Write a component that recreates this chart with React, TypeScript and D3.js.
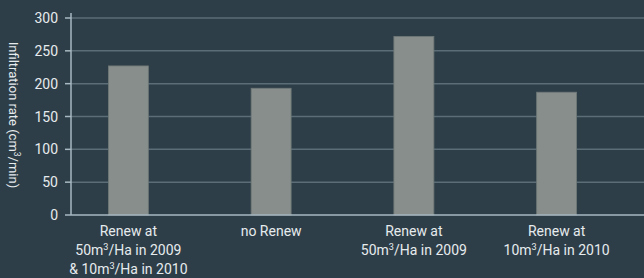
import React from 'react';
import * as d3 from 'd3';

// label lines; "^3" marks a superscript 3
const categories = ['c1', 'c2', 'c3', 'c4'];
const categoryLines = [
    ['Renew at', '50m^3/Ha in 2009', '& 10m^3/Ha in 2010'],
    ['no Renew'],
    ['Renew at', '50m^3/Ha in 2009'],
    ['Renew at', '10m^3/Ha in 2010'],
];
const values = [227, 193, 272, 187];
const yTicks = [0, 50, 100, 150, 200, 250, 300];

const W = 644;
const H = 278;
const FONT = 'Roboto, "Liberation Sans Narrow", Arial, sans-serif';

// turns "50m^3/Ha" into tspans with a raised 3
const supSpans = (text: string, size: number) => {
    const parts = text.split('^3');
    const out: React.ReactNode[] = [];
    const shift = size * 0.38;
    parts.forEach((p, i) => {
        out.push(<tspan key={'p' + i} dy={i > 0 ? shift : 0}>{p}</tspan>);
        if (i < parts.length - 1) {
            out.push(<tspan key={'s' + i} fontSize={size * 0.65} dy={-shift}>3</tspan>);
        }
    });
    return out;
};

const App: React.FC = () => {
    const x = d3.scaleBand<string>()
        .domain(categories)
        .range([57, 628])
        .paddingInner(0.72)
        .paddingOuter(0.36);
    const y = d3.scaleLinear().domain([0, 300]).range([215, 18]);
    const axisX = 71;

    return (
        <div style={{ position: 'fixed', left: 0, top: 0 }}>
            <svg width={W} height={H} style={{ display: 'block', background: '#2e3e48' }}>
                <rect width={W} height={H} fill="#2e3e48" />
                {yTicks.map(t => (
                    <g key={t}>
                        {t > 0 && (
                            <line x1={axisX} x2={W} y1={y(t)} y2={y(t)} stroke="#5b6d77" strokeWidth={1.5} />
                        )}
                        <line x1={65} x2={axisX} y1={y(t)} y2={y(t)} stroke="#a9b9c2" strokeWidth={1.5} />
                        <text x={58} y={y(t)} dy="0.36em" textAnchor="end" fill="#e6ebee"
                            fontSize={14} fontFamily={FONT}>{t}</text>
                    </g>
                ))}
                {values.map((v, i) => (
                    <rect key={i} x={x(categories[i])!} width={x.bandwidth()} y={y(v)} height={y(0) - y(v)}
                        fill="#878e8c" stroke="#6f7877" strokeWidth={0.8} />
                ))}
                <line x1={axisX} x2={axisX} y1={13} y2={y(0)} stroke="#a9b9c2" strokeWidth={1.5} />
                <line x1={axisX} x2={W} y1={y(0)} y2={y(0)} stroke="#a9b9c2" strokeWidth={1.5} />
                {categoryLines.map((lines, i) => (
                    <g key={i}>
                        {lines.map((l, j) => (
                            <text key={j} x={x(categories[i])! + x.bandwidth() / 2} y={236 + j * 19}
                                textAnchor="middle" fill="#e6ebee" fontSize={14} fontFamily={FONT}>
                                {supSpans(l, 14)}
                            </text>
                        ))}
                    </g>
                ))}
                <g transform={`translate(9, ${115}) rotate(90)`}>
                    <text textAnchor="middle" fill="#e6ebee" fontSize={13} fontFamily={FONT}>
                        {supSpans('Infiltration rate (cm^3/min)', 13)}
                    </text>
                </g>
            </svg>
        </div>
    );
};

export default App;
